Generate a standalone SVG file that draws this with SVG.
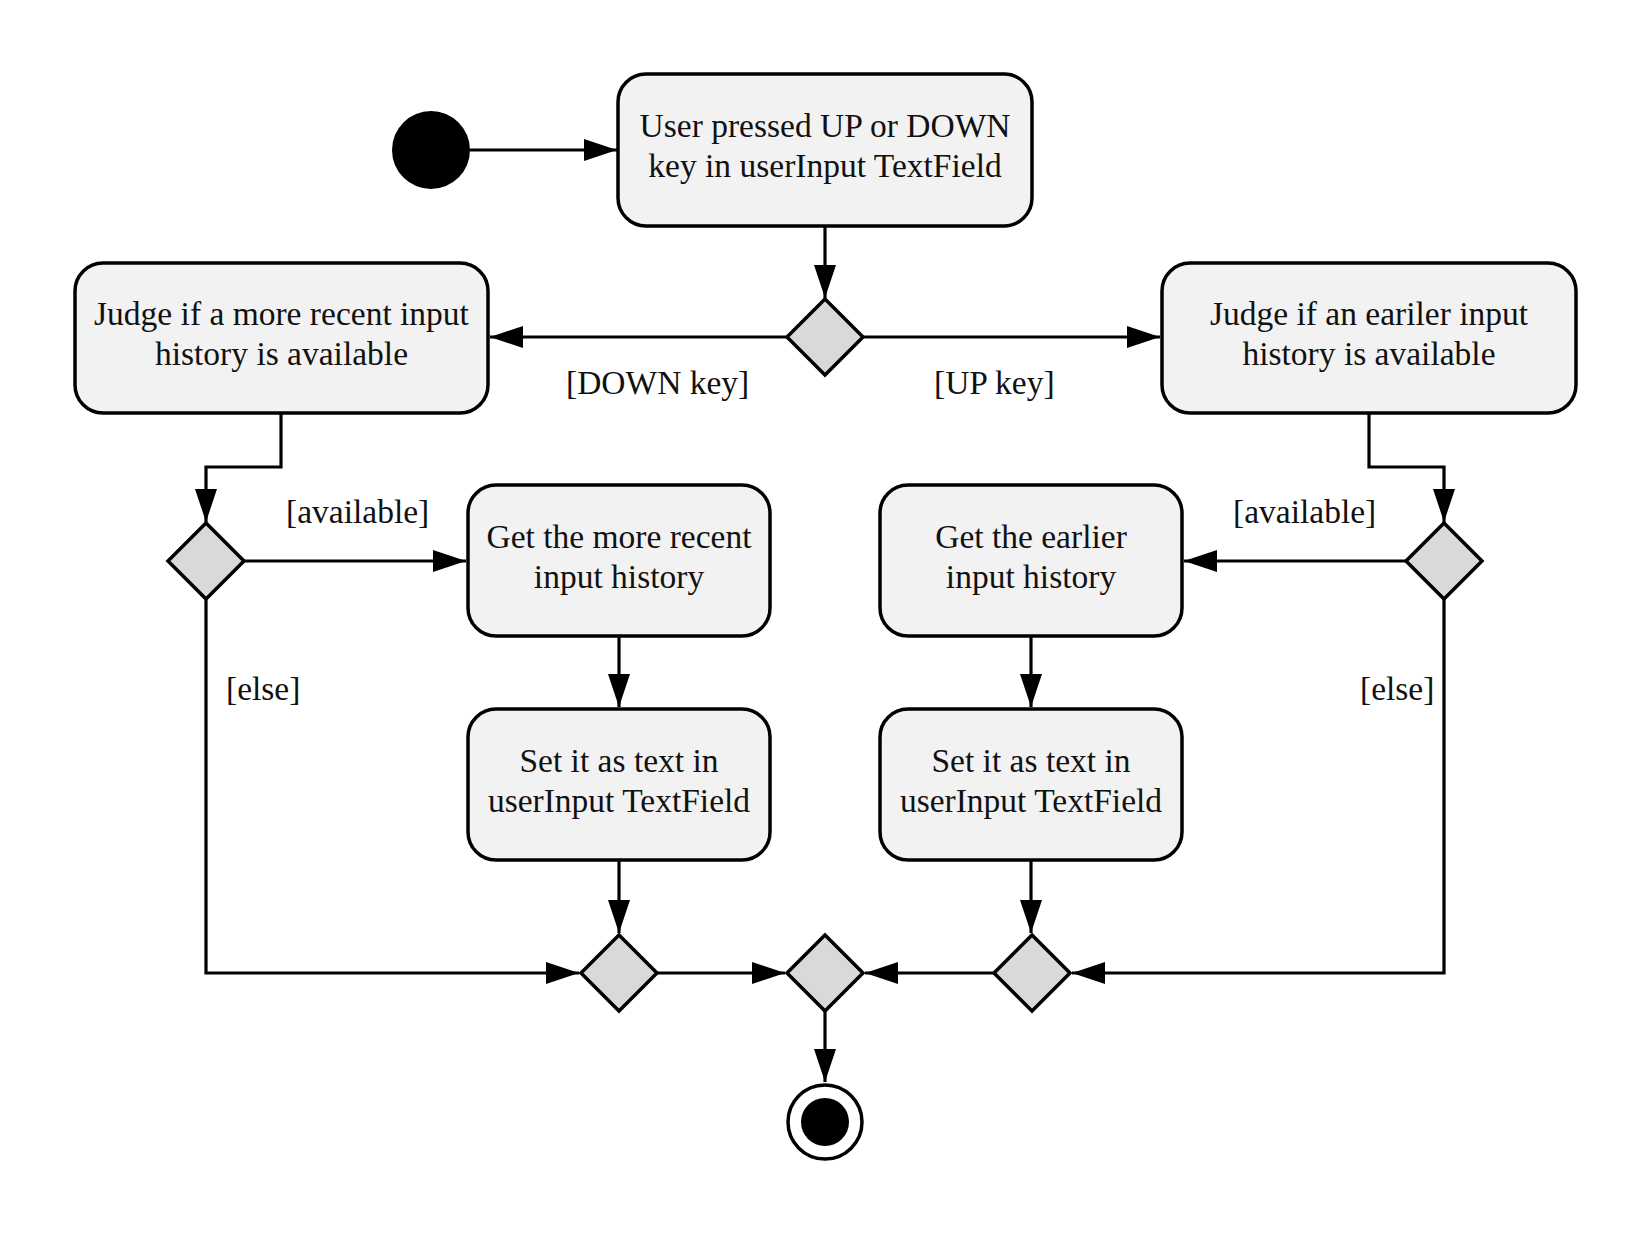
<svg xmlns="http://www.w3.org/2000/svg" width="1650" height="1236" viewBox="0 0 1650 1236">
<style>
.box{fill:#f2f2f2;stroke:#000;stroke-width:3.5}
.dia{fill:#d9d9d9;stroke:#000;stroke-width:3.5}
.t{font-family:"Liberation Serif","Times New Roman",serif;font-size:33.5px;fill:#111;text-anchor:middle}
.lbl{font-family:"Liberation Serif","Times New Roman",serif;font-size:33.5px;fill:#111}
.c{fill:none;stroke:#000;stroke-width:3.2;marker-end:url(#ah)}
</style>
<defs>
<marker id="ah" markerUnits="userSpaceOnUse" markerWidth="34" markerHeight="22" refX="33" refY="11" orient="auto">
<path d="M0,0 L33,11 L0,22 Z" fill="#000"/>
</marker>
</defs>
<rect width="1650" height="1236" fill="#fff"/>

<g id="connectors">
<path class="c" d="M470,150 H617"/>
<path class="c" d="M825,226 V298"/>
<path class="c" d="M787,337 H490"/>
<path class="c" d="M863,337 H1160"/>
<path class="c" d="M281,413 V467 H206 V522"/>
<path class="c" d="M244,561 H466"/>
<path class="c" d="M619,636 V707"/>
<path class="c" d="M619,860 V933"/>
<path class="c" d="M206,599 V973 H579"/>
<path class="c" d="M657,973 H785"/>
<path class="c" d="M993,973 H865"/>
<path class="c" d="M825,1011 V1082"/>
<path class="c" d="M1369,413 V467 H1444 V522"/>
<path class="c" d="M1406,561 H1184"/>
<path class="c" d="M1031,636 V707"/>
<path class="c" d="M1031,860 V933"/>
<path class="c" d="M1444,599 V973 H1072"/>
</g>

<g id="start"><circle cx="431" cy="150" r="39" fill="#000"/></g>

<g id="n_top">
<rect class="box" x="618" y="74" width="414" height="152" rx="28"/>
<text class="t" x="825" y="137">User pressed UP or DOWN</text>
<text class="t" x="825" y="177">key in userInput TextField</text>
</g>

<g id="d_key"><polygon class="dia" points="825,299 863,337 825,375 787,337"/></g>

<g id="n_judge_recent">
<rect class="box" x="75" y="263" width="413" height="150" rx="28"/>
<text class="t" x="281.5" y="325">Judge if a more recent input</text>
<text class="t" x="281.5" y="365">history is available</text>
</g>

<g id="n_judge_earlier">
<rect class="box" x="1162" y="263" width="414" height="150" rx="28"/>
<text class="t" x="1369" y="325">Judge if an eariler input</text>
<text class="t" x="1369" y="365">history is available</text>
</g>

<g id="d_left"><polygon class="dia" points="206,523 244,561 206,599 168,561"/></g>
<g id="d_right"><polygon class="dia" points="1444,523 1482,561 1444,599 1406,561"/></g>

<g id="n_get_recent">
<rect class="box" x="468" y="485" width="302" height="151" rx="28"/>
<text class="t" x="619" y="548">Get the more recent</text>
<text class="t" x="619" y="588">input history</text>
</g>

<g id="n_get_earlier">
<rect class="box" x="880" y="485" width="302" height="151" rx="28"/>
<text class="t" x="1031" y="548">Get the earlier</text>
<text class="t" x="1031" y="588">input history</text>
</g>

<g id="n_set_left">
<rect class="box" x="468" y="709" width="302" height="151" rx="28"/>
<text class="t" x="619" y="772">Set it as text in</text>
<text class="t" x="619" y="812">userInput TextField</text>
</g>

<g id="n_set_right">
<rect class="box" x="880" y="709" width="302" height="151" rx="28"/>
<text class="t" x="1031" y="772">Set it as text in</text>
<text class="t" x="1031" y="812">userInput TextField</text>
</g>

<g id="d_merge_left"><polygon class="dia" points="619,935 657,973 619,1011 581,973"/></g>
<g id="d_merge_center"><polygon class="dia" points="825,935 863,973 825,1011 787,973"/></g>
<g id="d_merge_right"><polygon class="dia" points="1032,935 1070,973 1032,1011 994,973"/></g>

<g id="end">
<circle cx="825" cy="1122" r="37" fill="#fff" stroke="#000" stroke-width="3.5"/>
<circle cx="825" cy="1122" r="24" fill="#000"/>
</g>

<g id="labels">
<text class="lbl" x="566" y="394">[DOWN key]</text>
<text class="lbl" x="934" y="394">[UP key]</text>
<text class="lbl" x="286" y="523">[available]</text>
<text class="lbl" x="1233" y="523">[available]</text>
<text class="lbl" x="226" y="700">[else]</text>
<text class="lbl" x="1360" y="700">[else]</text>
</g>
</svg>
